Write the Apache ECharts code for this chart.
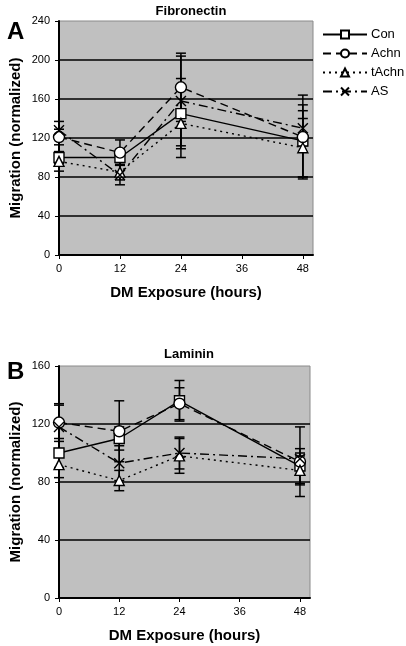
<!DOCTYPE html>
<html><head><meta charset="utf-8">
<script src="https://cdn.jsdelivr.net/npm/echarts@6/dist/echarts.min.js"></script>
<style>html,body{margin:0;padding:0;background:#fff}#c{width:406px;height:646px}</style>
</head><body><div id="c"></div>
<script>
var hours = [0, 12, 24, 48];
var xTicks = [0, 12, 24, 36, 48];
var seriesNames = ['Con', 'Achn', 'tAchn', 'AS'];
// Fibronectin (panel A)
var fnCon = [100, 100, 145, 117];
var fnAchn = [121, 105, 172, 121];
var fnTAchn = [96, 85, 135, 110];
var fnAS = [128, 82, 158, 130];
var fnConErr = [6, 8, 36, 37];
var fnAchnErr = [8, 13, 35, 43];
var fnTAchnErr = [10, 8, 35, 30];
var fnASErr = [9, 10, 46, 18];
// Laminin (panel B)
var lnCon = [100, 110, 136, 91];
var lnAchn = [121, 115, 134, 94];
var lnTAchn = [92, 81, 98, 88];
var lnAS = [118, 93, 100, 96];
var lnConErr = [10, 8, 14, 12];
var lnAchnErr = [13, 21, 11, 24];
var lnTAchnErr = [9, 7, 12, 10];
var lnASErr = [15, 12, 11, 4];

var FONT = 'Liberation Sans, Arial, sans-serif';
var styles = [
  {type: 'solid', symbol: 'rect', size: 10},
  {type: [8, 5], symbol: 'circle', size: 11},
  {type: [2, 4], symbol: 'triangle', size: 10},
  {type: [9, 4, 2, 4], symbol: 'path://M0,0L10,10M10,0L0,10', size: 10}
];

function pairs(vals) { return hours.map(function (h, i) { return [h, vals[i]]; }); }
function errPairs(vals, errs) { return hours.map(function (h, i) { return [h, vals[i], errs[i]]; }); }

function lineSeries(name, idx, vals, gi) {
  var s = styles[idx];
  var isX = s.symbol.indexOf('path') === 0;
  return {
    name: name, type: 'line', xAxisIndex: gi, yAxisIndex: gi,
    data: pairs(vals), symbol: s.symbol, symbolSize: s.size, z: 5,
    lineStyle: {color: '#000', width: 1.4, type: s.type},
    itemStyle: {color: isX ? '#000' : '#fff', borderColor: '#000', borderWidth: 1.4},
    emphasis: {disabled: true}, animation: false
  };
}
function errSeries(vals, errs, gi) {
  return {
    type: 'custom', xAxisIndex: gi, yAxisIndex: gi, z: 3, silent: true, animation: false,
    data: errPairs(vals, errs),
    renderItem: function (params, api) {
      var x = api.value(0), y = api.value(1), e = api.value(2);
      var t = api.coord([x, y + e]), b = api.coord([x, y - e]);
      var st = {stroke: '#000', lineWidth: 1.5};
      return {type: 'group', children: [
        {type: 'line', shape: {x1: t[0], y1: t[1], x2: b[0], y2: b[1]}, style: st},
        {type: 'line', shape: {x1: t[0] - 5, y1: t[1], x2: t[0] + 5, y2: t[1]}, style: st},
        {type: 'line', shape: {x1: b[0] - 5, y1: b[1], x2: b[0] + 5, y2: b[1]}, style: st}
      ]};
    }
  };
}

function xAxis(gi) {
  return {
    type: 'value', gridIndex: gi, min: 0, max: 50, interval: 12,
    name: 'DM Exposure (hours)', nameLocation: 'middle', nameGap: 30,
    nameTextStyle: {fontFamily: FONT, fontWeight: 'bold', fontSize: 15, color: '#000'},
    axisLine: {lineStyle: {color: '#000', width: 2}},
    axisTick: {show: true, customValues: xTicks, length: 4, lineStyle: {color: '#000', width: 1}},
    axisLabel: {customValues: xTicks, fontFamily: FONT, fontSize: 11, color: '#000', margin: 8},
    splitLine: {show: false}
  };
}
function yAxis(gi, max, interval) {
  return {
    type: 'value', gridIndex: gi, min: 0, max: max, interval: interval,
    name: 'Migration (normalized)', nameLocation: 'middle', nameGap: 36, nameMoveOverlap: false,
    nameTextStyle: {fontFamily: FONT, fontWeight: 'bold', fontSize: 15, color: '#000'},
    axisLine: {show: true, lineStyle: {color: '#000', width: 2}},
    axisTick: {show: true, length: 4, lineStyle: {color: '#000', width: 1}},
    axisLabel: {fontFamily: FONT, fontSize: 11, color: '#000', margin: 9},
    splitLine: {show: true, showMinLine: false, showMaxLine: false, lineStyle: {color: '#000', width: 1.5}}
  };
}

var fnVals = [fnCon, fnAchn, fnTAchn, fnAS];
var fnErrs = [fnConErr, fnAchnErr, fnTAchnErr, fnASErr];
var lnVals = [lnCon, lnAchn, lnTAchn, lnAS];
var lnErrs = [lnConErr, lnAchnErr, lnTAchnErr, lnASErr];

var series = [];
[[fnVals, fnErrs, 0], [lnVals, lnErrs, 1]].forEach(function (g) {
  for (var i = 0; i < 4; i++) series.push(errSeries(g[0][i], g[1][i], g[2]));
  for (var j = 0; j < 4; j++) series.push(lineSeries(seriesNames[j], j, g[0][j], g[2]));
});

var chart = echarts.init(document.getElementById('c'), null, {renderer: 'canvas'});
chart.setOption({
  animation: false,
  backgroundColor: '#fff',
  title: [
    {text: 'Fibronectin', left: 186, top: 0, textAlign: 'center', textStyle: {fontFamily: FONT, fontWeight: 'bold', fontSize: 13, color: '#000'}},
    {text: 'A', left: 2, top: 15, textStyle: {fontFamily: FONT, fontWeight: 'bold', fontSize: 24, color: '#000'}},
    {text: 'Laminin', left: 184, top: 343, textAlign: 'center', textStyle: {fontFamily: FONT, fontWeight: 'bold', fontSize: 13, color: '#000'}},
    {text: 'B', left: 2, top: 355, textStyle: {fontFamily: FONT, fontWeight: 'bold', fontSize: 24, color: '#000'}}
  ],
  legend: {
    data: seriesNames, orient: 'vertical', left: 320, top: 26, itemGap: 6, padding: 2,
    itemWidth: 44, itemHeight: 10, selectedMode: false,
    textStyle: {fontFamily: FONT, fontSize: 13, color: '#000', padding: [0, 0, 0, -1], width: 40, overflow: 'none'}
  },
  grid: [
    {left: 59, top: 21, width: 254, height: 234, outerBoundsMode: 'none', containLabel: false, show: true, backgroundColor: '#c0c0c0', borderColor: '#8a8a8a', borderWidth: 1},
    {left: 59, top: 366, width: 251, height: 232, outerBoundsMode: 'none', containLabel: false, show: true, backgroundColor: '#c0c0c0', borderColor: '#8a8a8a', borderWidth: 1}
  ],
  xAxis: [xAxis(0), xAxis(1)],
  yAxis: [yAxis(0, 240, 40), yAxis(1, 160, 40)],
  series: series
});
</script></body></html>
